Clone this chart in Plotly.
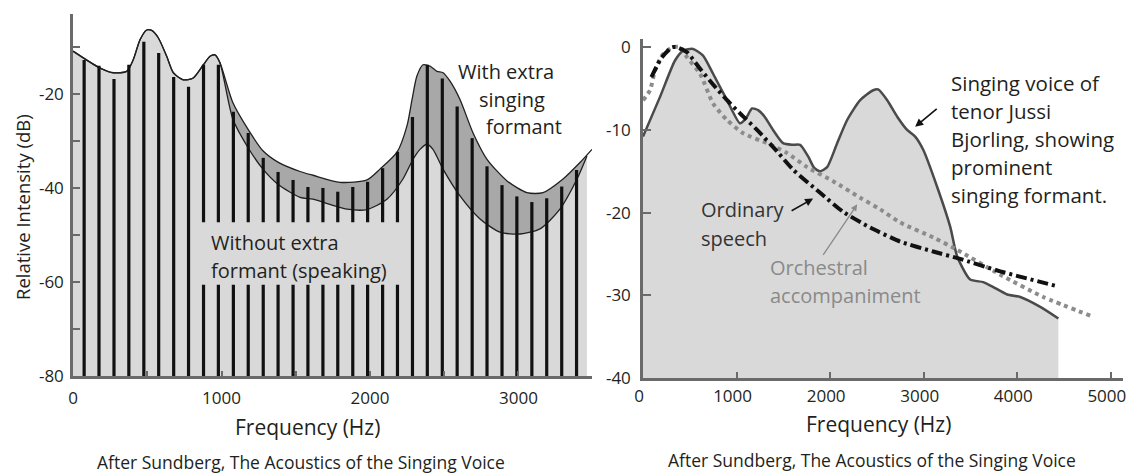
import plotly.graph_objects as go

W, H = 1128, 473

# ---------------- Left panel: harmonic spectrum ----------------
harm_freq = [75, 175, 276, 376, 477, 577, 678, 778, 879, 979, 1080, 1180, 1281, 1381,
             1482, 1582, 1683, 1783, 1884, 1984, 2085, 2185, 2286, 2386, 2487, 2587,
             2688, 2788, 2889, 2989, 3090, 3190, 3291, 3391]
harm_db = [-12.8, -14.0, -16.8, -13.8, -8.9, -11.3, -16.4, -18.5, -13.8, -13.8, -23.8,
           -28.3, -33.6, -36.6, -38.3, -39.8, -40.0, -40.8, -39.8, -38.7, -35.8, -32.3,
           -24.9, -13.8, -16.7, -22.7, -29.4, -35.4, -39.4, -41.8, -43.0, -42.2, -39.7, -36.2]

common_freq = [0, 182, 272, 361, 406, 451, 496, 530, 575, 631, 676, 743, 810, 878, 923, 956, 990]
common_db = [-10.9, -14.5, -15.5, -15.2, -12.7, -8.5, -6.4, -6.5, -8.1, -12.0, -15.5,
             -17.0, -16.6, -13.8, -12.0, -11.7, -13.4]

upper_freq = [1077, 1178, 1279, 1380, 1529, 1616, 1798, 1980, 2067, 2182, 2249, 2283,
              2316, 2357, 2404, 2451, 2492, 2539, 2606, 2694, 2788, 2923, 3057, 3165,
              3300, 3414, 3495]
upper_db = [-21.9, -27.5, -32.1, -34.5, -36.5, -37.3, -38.8, -38.3, -36.0, -32.4, -26.8,
            -21.2, -16.2, -13.8, -14.1, -15.2, -15.5, -17.3, -21.2, -28.3, -33.9, -38.5,
            -41.0, -41.0, -38.1, -34.6, -31.8]

lower_freq = [1077, 1178, 1279, 1380, 1529, 1616, 1845, 1980, 2114, 2222, 2290, 2337,
              2384, 2424, 2492, 2606, 2741, 2875, 3010, 3145, 3279, 3394, 3461]
lower_db = [-25.4, -31.4, -36.0, -39.2, -42.0, -42.4, -44.5, -44.6, -42.4, -38.1, -33.9,
            -31.8, -30.7, -31.8, -36.0, -41.7, -46.6, -49.4, -49.8, -48.7, -44.5, -38.1, -33.2]

left_xticks = [0, 1000, 2000, 3000]
left_xlabels = ["0", "1000", "2000", "3000"]
left_yticks = [-80, -60, -40, -20]
left_ylabels = ["-80", "-60", "-40", "-20"]

# ---------------- Right panel: long-term spectra ----------------
sing_freq = [0, 182, 342, 430, 535, 642, 749, 898, 1037, 1100, 1166, 1230, 1300, 1390,
             1497, 1594, 1679, 1765, 1830, 1893, 1968, 2075, 2182, 2321, 2460, 2513,
             2610, 2717, 2823, 2909, 2995, 3144, 3283, 3358, 3497, 3636, 3743, 3893,
             4032, 4246, 4439]
sing_db = [-10.8, -6.0, -1.6, -0.4, -0.2, -1.0, -3.2, -6.4, -9.2, -8.6, -7.4, -7.6, -8.4,
           -10.0, -11.6, -11.8, -11.8, -13.2, -14.6, -15.0, -14.5, -11.6, -8.8, -6.4,
           -5.2, -5.1, -6.4, -8.4, -10.0, -10.8, -12.4, -16.9, -21.7, -25.3, -28.1,
           -28.4, -29.0, -29.9, -30.2, -31.4, -32.8]

speech_freq = [90, 203, 310, 364, 470, 610, 749, 898, 1037, 1219, 1433, 1604, 1893, 2139,
               2428, 2749, 3102, 3390, 3818, 4428]
speech_db = [-3.6, -1.2, 0.0, 0.0, -0.6, -2.6, -4.5, -6.4, -8.0, -10.0, -12.6, -14.8,
             -17.6, -19.9, -21.8, -23.5, -24.7, -25.6, -27.1, -28.9]

orch_freq = [0, 75, 128, 203, 310, 400, 470, 610, 749, 898, 1070, 1326, 1540, 1754, 2032,
             2321, 2535, 2749, 3102, 3358, 3818, 4278, 4813]
orch_db = [-6.4, -5.2, -2.8, -1.0, 0.0, 0.0, -1.2, -3.2, -6.8, -8.8, -10.4, -11.6, -12.8,
           -14.5, -16.2, -18.2, -19.6, -21.2, -23.0, -24.5, -27.5, -30.2, -32.6]

right_xticks = [0, 1000, 2000, 3000, 4000, 5000]
right_xlabels = ["0", "1000", "2000", "3000", "4000", "5000"]
right_yticks = [-40, -30, -20, -10, 0]
right_ylabels = ["-40", "-30", "-20", "-10", "0"]

LIGHT = "#d9d9d9"
DARK = "#a8a8a8"
INK = "#231f20"
AXIS = "#6a6a6a"
FONT = "Open Sans"

fig = go.Figure()

# left panel fills
left_floor = left_yticks[0]
fig.add_trace(go.Scatter(x=[common_freq[0], lower_freq[-1]], y=[left_floor, left_floor],
                         mode="lines", line=dict(width=0, color=LIGHT),
                         hoverinfo="skip", showlegend=False, xaxis="x", yaxis="y"))
fig.add_trace(go.Scatter(x=common_freq + lower_freq, y=common_db + lower_db, mode="lines",
                         fill="tonexty", fillcolor=LIGHT,
                         line=dict(color=INK, width=1.3, shape="spline", smoothing=0.7),
                         showlegend=False, xaxis="x", yaxis="y"))
fig.add_trace(go.Scatter(x=common_freq + upper_freq, y=common_db + upper_db, mode="lines",
                         fill="tonexty", fillcolor=DARK,
                         line=dict(color=INK, width=1.3, shape="spline", smoothing=0.7),
                         showlegend=False, xaxis="x", yaxis="y"))

# harmonics as vertical lines
bx, by = [], []
for f, d in zip(harm_freq, harm_db):
    bx += [f, f, None]
    by += [left_floor, d, None]
fig.add_trace(go.Scatter(x=bx, y=by, mode="lines", line=dict(color="#111111", width=3.2),
                         showlegend=False, xaxis="x", yaxis="y"))

# right panel
right_floor = right_yticks[0]
fig.add_trace(go.Scatter(x=[sing_freq[0], sing_freq[-1]], y=[right_floor, right_floor],
                         mode="lines", line=dict(width=0, color=LIGHT),
                         hoverinfo="skip", showlegend=False, xaxis="x2", yaxis="y2"))
fig.add_trace(go.Scatter(x=sing_freq, y=sing_db, mode="lines", fill="tonexty", fillcolor=LIGHT,
                         line=dict(color="#4a4a4a", width=2.5, shape="spline", smoothing=0.6),
                         showlegend=False, xaxis="x2", yaxis="y2"))
fig.add_trace(go.Scatter(x=orch_freq, y=orch_db, mode="lines",
                         line=dict(color="#8c8c8c", width=4, dash="4px,4px",
                                   shape="spline", smoothing=0.6),
                         showlegend=False, xaxis="x2", yaxis="y2"))
fig.add_trace(go.Scatter(x=speech_freq, y=speech_db, mode="lines",
                         line=dict(color="#111111", width=4, dash="11px,4px,3px,4px",
                                   shape="spline", smoothing=0.6),
                         showlegend=False, xaxis="x2", yaxis="y2"))


def px(x):
    return x / W


def py(y):
    return 1 - y / H


axis_common = dict(showline=True, linecolor=AXIS, linewidth=2.5, ticks="inside",
                   tickcolor=AXIS, tickwidth=1.5, showgrid=False, zeroline=False,
                   automargin=False, ticklabeloverflow="allow",
                   tickfont=dict(family=FONT, size=17, color=INK), fixedrange=True)

fig.update_layout(
    template="none",
    width=W, height=H, margin=dict(l=0, r=0, t=0, b=0, pad=0, autoexpand=False),
    paper_bgcolor="white", plot_bgcolor="white", showlegend=False,
    xaxis=dict(domain=[px(73), px(592)], range=[0, 3495], anchor="y",
               tickvals=left_xticks, ticktext=left_xlabels, ticklen=5, ticklabelstandoff=5,
               minor=dict(dtick=500, tick0=0, ticks="inside", ticklen=5,
                          tickcolor=AXIS, tickwidth=1.5),
               **axis_common),
    yaxis=dict(domain=[py(376), py(14)], range=[-80, -3], anchor="x",
               tickvals=left_yticks, ticktext=left_ylabels, ticklen=7, ticklabelstandoff=3,
               minor=dict(dtick=10, tick0=0, ticks="inside", ticklen=7,
                          tickcolor=AXIS, tickwidth=1.5),
               **axis_common),
    xaxis2=dict(domain=[px(643), px(1123)], range=[0, 5130], anchor="y2",
                tickvals=right_xticks, ticktext=right_xlabels, ticklen=6,
                ticklabelstandoff=1, ticklabelshift=-4, **axis_common),
    yaxis2=dict(domain=[py(378), py(39)], range=[-40, 1], anchor="x2",
                tickvals=right_yticks, ticktext=right_ylabels, ticklen=8,
                ticklabelstandoff=6, **axis_common),
)

# label background box interrupting the harmonics
fig.add_shape(type="rect", xref="x", yref="y", x0=840, x1=2235, y0=-60.6, y1=-47.3,
              fillcolor=LIGHT, line=dict(width=0), layer="above")

annos = []


def text(s, x, y, size=20, color=INK, xanchor="center", angle=0):
    annos.append(dict(text=s, x=px(x), y=py(y), xref="paper", yref="paper",
                      xanchor=xanchor, yanchor="middle", showarrow=False, textangle=angle,
                      borderpad=0, font=dict(family=FONT, size=size, color=color)))


# left panel labels
text("With extra", 506, 72)
text("singing", 512, 100)
text("formant", 524, 127)
text("Without extra", 210, 242, xanchor="left")
text("formant (speaking)", 210, 270, xanchor="left")
text("Relative Intensity (dB)", 22, 207, size=18.5, angle=-90)
text("Frequency (Hz)", 307, 427, size=21)
text("After Sundberg, The Acoustics of the Singing Voice", 301, 462, size=17.5)

# right panel labels
for i, s in enumerate(["Singing voice of", "tenor Jussi", "Bjorling, showing",
                       "prominent", "singing formant."]):
    text(s, 950, 83 + 28 * i, size=20.5, xanchor="left")
text("Ordinary", 700, 210, color="#333333", xanchor="left")
text("speech", 700, 238, color="#333333", xanchor="left")
text("Orchestral", 769, 267, color="#8a8a8a", xanchor="left")
text("accompaniment", 769, 295, color="#8a8a8a", xanchor="left")
text("Frequency (Hz)", 878, 424, size=21)
text("After Sundberg, The Acoustics of the Singing Voice", 872, 460, size=17.5)

# arrows
for (hx, hy, ax, ay, col, w) in [(2909, -9.6, 23, -19, "#111111", 1.6),
                                 (1818, -18.3, -23, 13, "#111111", 1.6),
                                 (2289, -19.0, -35, 52, "#8a8a8a", 1.3)]:
    annos.append(dict(text="", x=hx, y=hy, xref="x2", yref="y2", ax=ax, ay=ay,
                      axref="pixel", ayref="pixel", showarrow=True, arrowhead=2,
                      arrowsize=1, arrowwidth=w, arrowcolor=col))

fig.update_layout(annotations=annos)

fig.write_html("out.html")
